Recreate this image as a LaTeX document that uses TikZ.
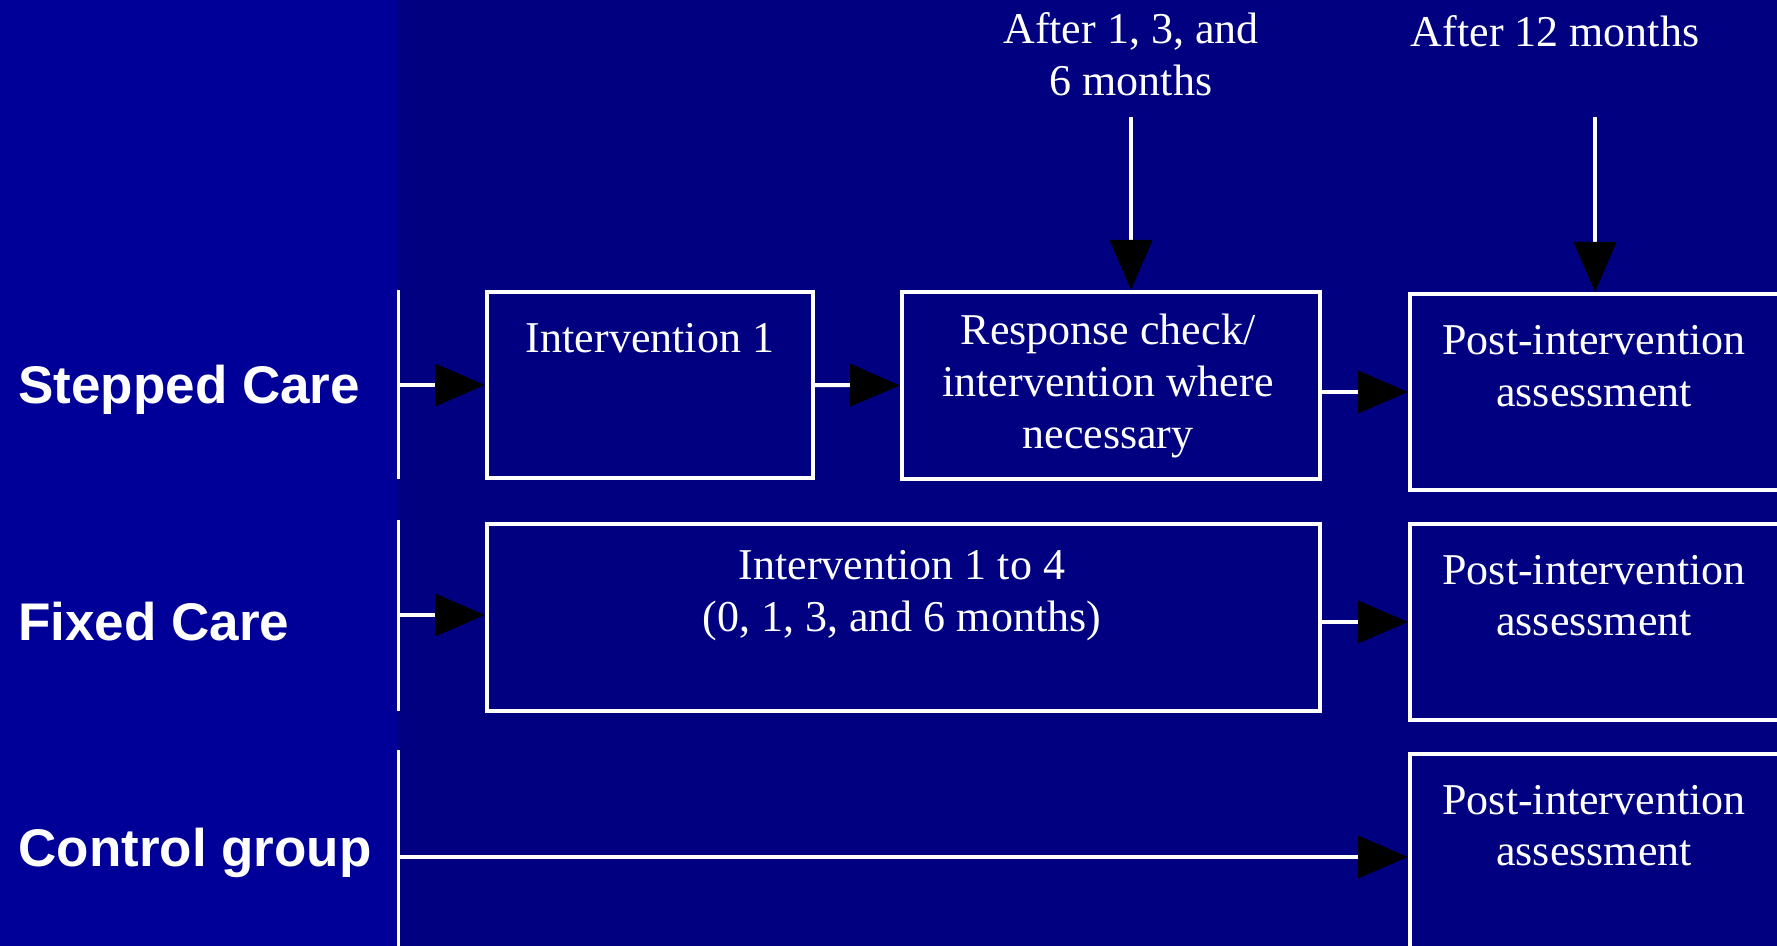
\documentclass[tikz,border=0pt]{standalone}
\usepackage{fontspec}
\setmainfont{Liberation Serif}
\newfontfamily\armfont{Liberation Sans}
\usetikzlibrary{arrows.meta}
\definecolor{slidenavy}{RGB}{0,0,128}
\definecolor{sidebar}{RGB}{0,0,153}
\tikzset{
  box/.style={draw=white, line width=2pt, inner sep=0pt},
  txt/.style={text=white, align=center, font=\fontsize{22}{25.8}\selectfont},
  arm/.style={text=white, anchor=base west, inner sep=0pt, font=\armfont\bfseries\fontsize{26.5}{30}\selectfont},
  flow/.style={draw=white, line width=2pt, -{Triangle[length=25pt,width=21pt,color=black,fill=black]}},
  bar/.style={draw=white, line width=1.5pt}
}
\begin{document}
\begin{tikzpicture}[x=0.5pt,y=-0.5pt]
\useasboundingbox (0,0) rectangle (1777,946);
\fill[slidenavy] (0,0) rectangle (1777,946);
\fill[sidebar] (0,0) rectangle (397,946);
\path node[arm] (stepped) at (18,404) {Stepped Care}
node[arm] (fixed) at (18,640) {Fixed Care}
node[arm] (control) at (18,866) {Control group}
node[box, minimum width=163pt, minimum height=93pt] (int1) at (650,385) {}
node[box, minimum width=209pt, minimum height=93.5pt] (resp) at (1111,385.5) {}
node[box, minimum width=190pt, minimum height=98pt] (post1) at (1600,392) {}
node[box, minimum width=416.5pt, minimum height=93.5pt] (intall) at (903.5,617.5) {}
node[box, minimum width=190pt, minimum height=98pt] (post2) at (1600,622) {}
node[box, minimum width=190pt, minimum height=103pt] (post3) at (1600,857) {}
node[txt] (int1txt) at (650,338) {Intervention 1}
node[txt] (resptxt) at (1108,386) {Response check/\\intervention where\\necessary}
node[txt] (post1txt) at (1594,366) {Post-intervention\\assessment}
node[txt] (intalltxt) at (902,595.5) {Intervention 1 to 4\\(0, 1, 3, and 6 months)}
node[txt] (post2txt) at (1594,595.5) {Post-intervention\\assessment}
node[txt] (post3txt) at (1594,825.5) {Post-intervention\\assessment}
node[txt] (chktxt) at (1131,54) {After 1, 3, and\\6 months}
node[txt] (fintxt) at (1555,31) {After 12 months}
;
\coordinate (stepin) at (398,385);
\coordinate (fixin) at (398,615);
\coordinate (ctrlin) at (398,857);
\coordinate (chk) at (1131,117);
\coordinate (fin) at (1595,117);
\draw[bar] (398,290) -- (398,479);
\draw[bar] (398,520) -- (398,711);
\draw[bar] (398,750) -- (398,946);
\draw[flow] (stepin) -- (int1.west);
\draw[flow] (int1.east) -- (resp.west);
\draw[flow] (resp.east |- post1.west) -- (post1.west);
\draw[flow] (fixin) -- (fixin -| intall.west);
\draw[flow] (intall.east |- post2.west) -- (post2.west);
\draw[flow] (ctrlin) -- (post3.west);
\draw[flow] (chk) -- (chk |- resp.north);
\draw[flow] (fin) -- (fin |- post1.north);
\end{tikzpicture}
\end{document}
